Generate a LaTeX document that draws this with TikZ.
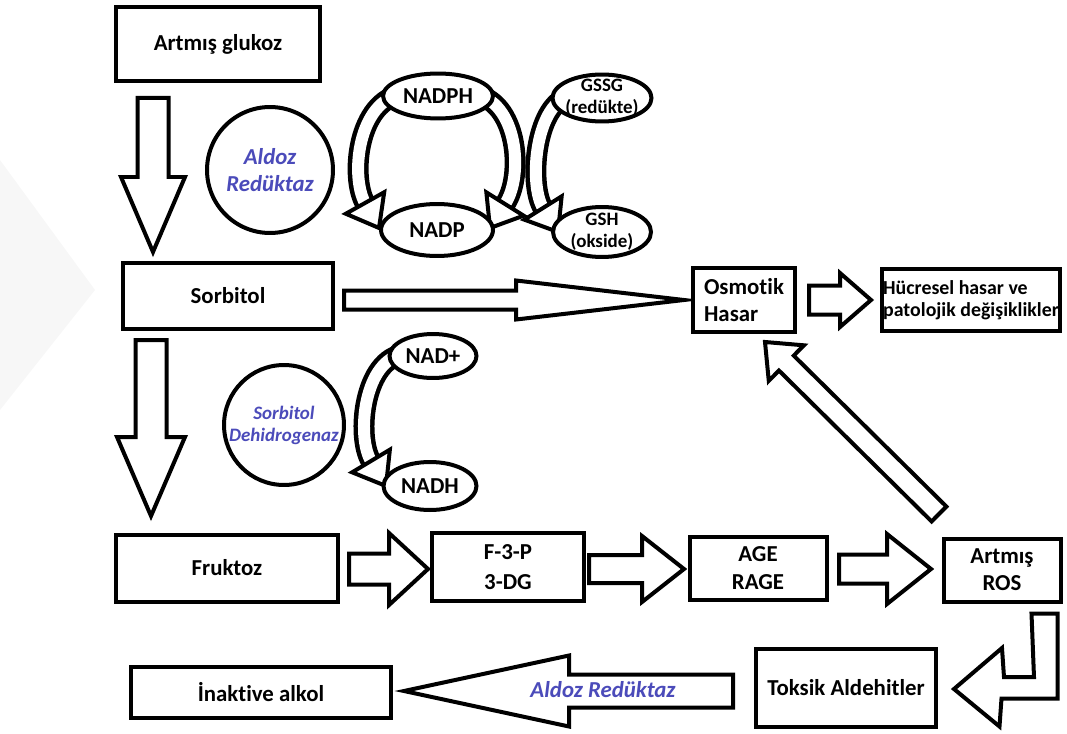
\documentclass[tikz,border=0pt]{standalone}
\usepackage{fontspec}
\setmainfont{Carlito}[Ligatures=NoCommon]
\usepackage{tikz}
\usetikzlibrary{shapes.geometric,backgrounds,calc,positioning}
\definecolor{enzblue}{HTML}{4B4BBA}
\definecolor{wmgray}{HTML}{F7F7F7}

% block arrow: [opts]{from}{to}{shaft half}{head half}{head length}, in px
\newcommand{\blockarrow}[6][]{%
  \coordinate (ba-h) at ($(#3)!#6*0.02cm!(#2)$);
  \draw[fat,#1] ($(#2)!#4*0.02cm!90:(#3)$) -- ($(ba-h)!#4*0.02cm!90:(#3)$)
    -- ($(ba-h)!#5*0.02cm!90:(#3)$) -- (#3) -- ($(ba-h)!#5*0.02cm!-90:(#3)$)
    -- ($(ba-h)!#4*0.02cm!-90:(#3)$) -- ($(#2)!#4*0.02cm!-90:(#3)$) -- cycle;}
% head of a bent arrow: {base}{tip}{head half}
\newcommand{\benthead}[3]{%
  \draw[fat] ($(#1)!#3*0.02cm!90:(#2)$) -- (#2) -- ($(#1)!#3*0.02cm!-90:(#2)$) -- cycle;}

\begin{document}
\begin{tikzpicture}[x=0.02cm, y=-0.02cm, line join=miter,
  box/.style={draw, line width=0.08cm, fill=white, font=\bfseries\fontsize{13}{15.5}\selectfont, align=center, inner sep=0pt},
  ell/.style={ellipse, draw, line width=0.08cm, fill=white, font=\bfseries\fontsize{13}{14}\selectfont, align=center, inner sep=0pt},
  enz/.style={circle, draw, line width=0.08cm, fill=white, text=enzblue, font=\bfseries\itshape\fontsize{13}{15.5}\selectfont, align=center, inner sep=0pt},
  fat/.style={draw, line width=0.08cm, fill=white},
  bent/.style={draw=white, line width=0.24cm, preaction={draw=black, line width=0.42cm}}]
  \useasboundingbox (0,0) rectangle (1067,733);

  \node[box, minimum width=4.1cm, minimum height=1.5cm] (glukoz) at (218,44) {Artmış glukoz};
  \node[box, minimum width=4.2cm, minimum height=1.32cm] (sorbitol) at (228,296) {Sorbitol};
  \node[box, minimum width=2.04cm, minimum height=1.28cm, align=left] (osmotik) at (744,300) {Osmotik\\Hasar};
  \node[box, minimum width=3.56cm, minimum height=1.26cm, align=left, font=\bfseries\fontsize{11.3}{12.5}\selectfont] (hucre) at (971,300) {Hücresel hasar ve\\patolojik değişiklikler};
  \node[box, minimum width=4.46cm, minimum height=1.34cm] (fruktoz) at (227,568) {Fruktoz};
  \node[box, minimum width=3.06cm, minimum height=1.36cm] (f3p) at (508,567) {F-3-P\\[2pt]3-DG};
  \node[box, minimum width=2.74cm, minimum height=1.26cm] (age) at (758,568) {AGE\\RAGE};
  \node[box, minimum width=2.34cm, minimum height=1.26cm] (ros) at (1002,570) {Artmış\\ROS};
  \node[box, minimum width=3.6cm, minimum height=1.56cm] (toksik) at (846,688) {Toksik Aldehitler};
  \node[box, minimum width=5.22cm, minimum height=1.02cm] (inaktive) at (261,692) {İnaktive alkol};

  \node[enz, minimum size=2.52cm] (ar) at (270,170) {Aldoz\\Redüktaz};
  \node[enz, minimum size=2.4cm, font=\bfseries\itshape\fontsize{10.8}{12.5}\selectfont] (sdh) at (284,425) {Sorbitol\\Dehidrogenaz};

  \node[ell, minimum width=2.2cm, minimum height=0.9cm] (nadph) at (438,96) {NADPH};
  \node[ell, minimum width=2.24cm, minimum height=1.04cm] (nadp) at (437,230) {NADP};
  \node[ell, minimum width=1.98cm, minimum height=0.94cm, inner sep=-3pt, font=\bfseries\fontsize{10.8}{12.5}\selectfont] (gssg) at (602,98) {GSSG\\(redükte)};
  \node[ell, minimum width=1.96cm, minimum height=1cm, inner sep=-3pt, font=\bfseries\fontsize{10.8}{12.5}\selectfont] (gsh) at (602,232) {GSH\\(okside)};
  \node[ell, minimum width=1.74cm, minimum height=0.88cm] (nadplus) at (433,356) {NAD+};
  \node[ell, minimum width=1.86cm, minimum height=0.96cm] (nadh) at (430,486) {NADH};

  \coordinate (ga) at (153,98);  \coordinate (gb) at (153,252);
  \coordinate (sa) at (151,340); \coordinate (sb) at (151,516);
  \coordinate (oa) at (344,300); \coordinate (ob) at (684,300);
  \coordinate (ha) at (809,300); \coordinate (hb) at (871,300);
  \coordinate (fa) at (349,569); \coordinate (fb) at (428,569);
  \coordinate (pa) at (589,569); \coordinate (pb) at (684,569);
  \coordinate (ra) at (839,569); \coordinate (rb) at (931,569);
  \coordinate (da) at (939,514); \coordinate (db) at (765,342);
  \coordinate (ka) at (733,691); \coordinate (kb) at (404,691);

  \begin{scope}[on background layer]
    \fill[wmgray] (0,160) -- (95,290) -- (0,410) -- cycle;
    \foreach \s/\t/\w/\hw/\hl in {ga/gb/15.5/32/75, sa/sb/15.5/34/79, oa/ob/9.5/19.5/168,
        ha/hb/14.5/27/31, fa/fb/15.5/36/39, pa/pb/14/33/42, ra/rb/14.5/35/44,
        da/db/10.5/25/30, ka/kb/16.5/35.5/165}
      \blockarrow{\s}{\t}{\w}{\hw}{\hl};
    \draw[fat] ($(ros.south east)+(-31,10)$) -- ++(26,0) -- ++(0,85) -- ++(-56,0) -- ++(-2,28)
      -- ($(toksik.east)+(16,1)$) -- ++(48,-41) -- ++(2,29) -- ++(30,0) -- cycle;
    \draw[bent] ($(nadph.center)+(-35,-2)$) .. controls (358,100) and (350,176) .. (365,203);
    \benthead{365,203}{379,228}{22}
    \draw[bent] ($(nadph.center)+(35,-2)$) .. controls (518,100) and (524,176) .. (505,204);
    \benthead{505,204}{490,228}{22}
    \draw[bent] ($(gssg.center)+(-30,-2)$) .. controls (536,100) and (528,183) .. (543,208);
    \benthead{543,208}{558,232}{22}
    \draw[bent] ($(nadplus.center)+(-28,-2)$) .. controls (364,358) and (356,436) .. (371,461);
    \benthead{371,461}{386,486}{22}
  \end{scope}

  \node[text=enzblue, font=\bfseries\itshape\fontsize{13}{15}\selectfont] (arlabel) at (603,690) {Aldoz Redüktaz};
\end{tikzpicture}
\end{document}
